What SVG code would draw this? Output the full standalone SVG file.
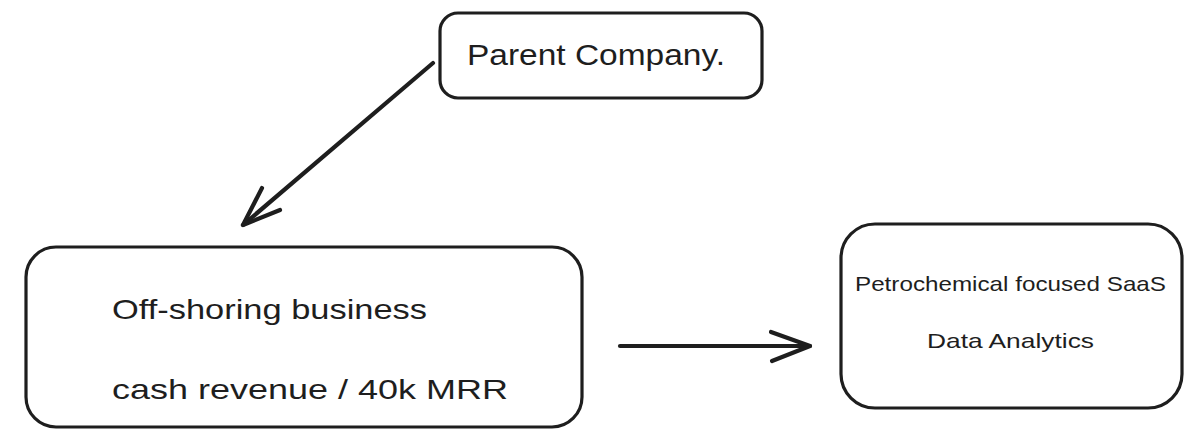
<svg xmlns="http://www.w3.org/2000/svg" width="1200" height="431" viewBox="0 0 1200 431">
<style>
.box{fill:#fff;stroke:#1e1e1e;stroke-width:3.2}
.lbl{font-family:"Liberation Sans","DejaVu Sans",sans-serif;fill:#1e1e1e}
.conn{fill:none;stroke:#1e1e1e;stroke-width:4.2;stroke-linecap:round;stroke-linejoin:round}
</style>
<rect width="1200" height="431" fill="#fff"/>
<g id="parent">
<rect class="box" x="440" y="13" width="322" height="85" rx="18"/>
<text class="lbl" x="467" y="65" font-size="30" textLength="258" lengthAdjust="spacingAndGlyphs">Parent Company.</text>
</g>
<g id="offshoring">
<rect class="box" x="26" y="247" width="556" height="180" rx="30"/>
<text class="lbl" x="112" y="319" font-size="28" textLength="315" lengthAdjust="spacingAndGlyphs">Off-shoring business</text>
<text class="lbl" x="112" y="399" font-size="28" textLength="396" lengthAdjust="spacingAndGlyphs">cash revenue / 40k MRR</text>
</g>
<g id="saas">
<rect class="box" x="841" y="224" width="341" height="184" rx="34"/>
<text class="lbl" x="855" y="291" font-size="21" textLength="311" lengthAdjust="spacingAndGlyphs">Petrochemical focused SaaS</text>
<text class="lbl" x="927" y="348" font-size="21" textLength="167" lengthAdjust="spacingAndGlyphs">Data Analytics</text>
</g>
<g id="connectors">
<path class="conn" d="M433 63 L243 225"/>
<path class="conn" d="M262 188 L243 225 L280 210"/>
<path class="conn" d="M620 346 L810 346"/>
<path class="conn" d="M771 332 L810 346 L772 361"/>
</g>
</svg>
